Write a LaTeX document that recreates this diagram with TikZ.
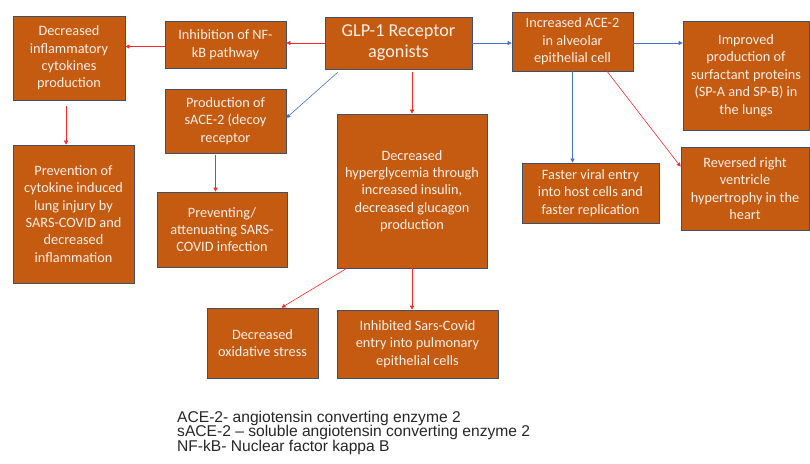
\documentclass[tikz,border=0pt]{standalone}
\usepackage{fontspec}
\setmainfont{Carlito}
\newfontfamily\legendfont{Liberation Sans}
\usepackage{tikz}
\usetikzlibrary{arrows.meta}

\definecolor{boxfill}{RGB}{197,90,17}
\definecolor{boxline}{RGB}{62,80,108}
\definecolor{boxtext}{RGB}{250,240,232}
\definecolor{arrred}{RGB}{255,40,40}
\definecolor{arrblue}{RGB}{68,114,196}

\begin{document}
\begin{tikzpicture}[x=1pt,y=-1pt,
    box/.style={draw=boxline, line width=0.7pt, fill=boxfill, text=boxtext,
      align=center, inner sep=2pt, font=\fontsize{14.3}{17.4}\selectfont},
    redarr/.style={draw=arrred, line width=0.6pt, -{Triangle[length=4pt,width=4pt]}},
    bluearr/.style={draw=arrblue, line width=0.6pt, -{Triangle[length=4pt,width=4pt]}},
    legtext/.style={anchor=base west, inner sep=0pt, text=black!85,
      text height=11pt, text depth=3pt,
      font=\legendfont\fontsize{15.6}{18}\selectfont}]
  \useasboundingbox (0,0) rectangle (810,463);

  % boxes
  \node[box, minimum width=147pt, minimum height=52pt, font=\fontsize{18.2}{21}\selectfont]
    (glp) at (398.5,43) {GLP-1 Receptor\\agonists};
  \node[box, minimum width=121pt, minimum height=47pt] (nfkb) at (225.5,44.5)
    {Inhibition of NF-\\kB pathway};
  \node[box, minimum width=112pt, minimum height=84pt] (dcyto) at (69,58)
    {Decreased\\inflammatory\\cytokines\\production};
  \node[box, minimum width=121pt, minimum height=59pt] (ace) at (572.5,41.5)
    {Increased ACE-2\\in alveolar\\epithelial cell};
  \node[box, minimum width=126pt, minimum height=109pt] (surf) at (746,75.5)
    {Improved\\production of\\surfactant proteins\\(SP-A and SP-B) in\\the lungs};
  \node[box, minimum width=121pt, minimum height=64pt] (sace) at (225.5,121)
    {Production of\\sACE-2 (decoy\\receptor};
  \node[box, minimum width=121pt, minimum height=138pt] (prev) at (73.5,214)
    {Prevention of\\cytokine induced\\lung injury by\\SARS-COVID and\\decreased\\inflammation};
  \node[box, minimum width=130pt, minimum height=75pt] (attn) at (222,229.5)
    {Preventing/\\attenuating SARS-\\COVID infection};
  \node[box, minimum width=150pt, minimum height=154pt] (hyper) at (412,191)
    {Decreased\\hyperglycemia through\\increased insulin,\\decreased glucagon\\production};
  \node[box, minimum width=137pt, minimum height=60pt] (viral) at (590.5,193)
    {Faster viral entry\\into host cells and\\faster replication};
  \node[box, minimum width=128pt, minimum height=83pt] (rv) at (745,188.5)
    {Reversed right\\ventricle\\hypertrophy in the\\heart};
  \node[box, minimum width=111pt, minimum height=70pt] (oxid) at (262.5,343)
    {Decreased\\oxidative stress};
  \node[box, minimum width=161pt, minimum height=68pt] (inhib) at (417.5,344)
    {Inhibited Sars-Covid\\entry into pulmonary\\epithelial cells};

  % connectors
  \draw[redarr] (glp.west) -- (glp.west -| nfkb.east);
  \draw[redarr] ([yshift=-2pt]nfkb.west) -- ([yshift=-2pt]nfkb.west -| dcyto.east);
  \draw[bluearr] (glp.east) -- (glp.east -| ace.west);
  \draw[bluearr] ([yshift=-1.5pt]ace.east) -- ([yshift=-1.5pt]ace.east -| surf.west);
  \draw[bluearr] ([xshift=13pt,yshift=-3pt]glp.south west) -- ([yshift=3pt]sace.east);
  \draw[redarr] ([yshift=-3pt]hyper.north |- glp.south) -- (hyper.north);
  \draw[redarr] ([xshift=-3pt,yshift=-6pt]dcyto.south) -- ([xshift=-3pt]dcyto.south |- prev.north);
  \draw[redarr] ([xshift=-10pt,yshift=-2pt]sace.south) -- ([xshift=-10pt]sace.south |- attn.north);
  \draw[bluearr] (ace.south) -- (ace.south |- viral.north);
  \draw[redarr] ([xshift=33pt,yshift=2pt]ace.south) -- ([yshift=-20pt]rv.north west);
  \draw[redarr] ([xshift=10pt]hyper.south west) -- ([xshift=19pt]oxid.north);
  \draw[redarr] (hyper.south) -- (hyper.south |- inhib.north);

  % legend
  \node[legtext] (leg1) at (177,422) {ACE-2- angiotensin converting enzyme 2};
  \node[legtext] (leg2) at (177,436.5) {sACE-2 – soluble angiotensin converting enzyme 2};
  \node[legtext] (leg3) at (177,451) {NF-kB- Nuclear factor kappa B};
\end{tikzpicture}
\end{document}
